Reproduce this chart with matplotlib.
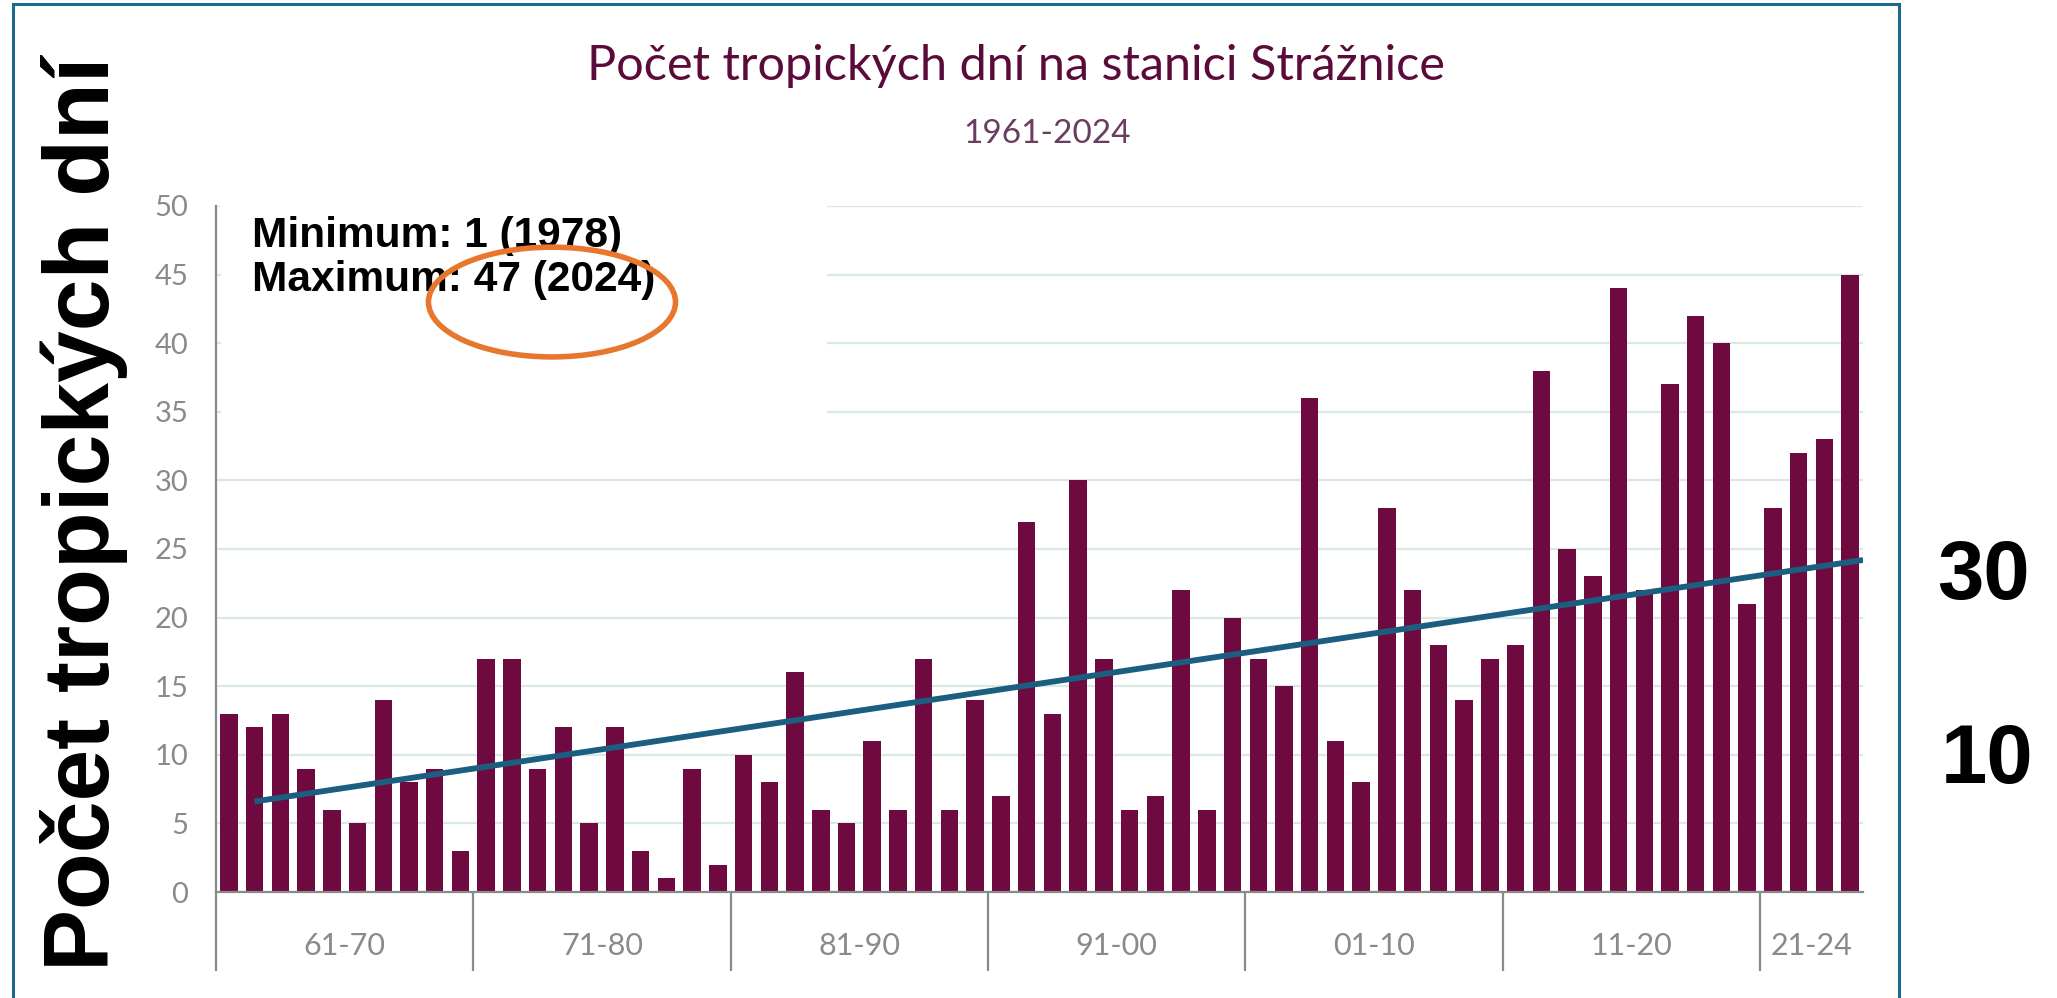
import matplotlib.pyplot as plt
from matplotlib.patches import Ellipse, Rectangle
import numpy as np

# pocet tropickych dni, Straznice 1961-2024
years = list(range(1961, 2025))
days = [13, 12, 13, 9, 6, 5, 14, 8, 9, 3,
        17, 17, 9, 12, 5, 12, 3, 1, 9, 2,
        10, 8, 16, 6, 5, 11, 6, 17, 6, 14,
        7, 27, 13, 30, 17, 6, 7, 22, 6, 20,
        17, 15, 36, 11, 8, 28, 22, 18, 14, 17,
        18, 38, 25, 23, 44, 22, 37, 42, 40, 21,
        28, 32, 33, 45]

decades = ['61-70', '71-80', '81-90', '91-00', '01-10', '11-20', '21-24']
decade_edges = [1960.5, 1970.5, 1980.5, 1990.5, 2000.5, 2010.5, 2020.5, 2024.5]

# trend line as drawn in the original
trend_years = [1962, 2024.5]
trend_days = [6.6, 24.2]

bar_color = '#6e0a40'
grey = '#8a8a8a'

fig = plt.figure(figsize=(20.57, 9.98), dpi=100)
ax = fig.add_axes([0.105, 0.1062, 0.8007, 0.6874])

ax.bar(years, days, width=0.68, color=bar_color, zorder=2)
ax.plot(trend_years, trend_days, color='#1b5e80', lw=4.2, zorder=3,
        solid_capstyle='butt')

ax.set_xlim(1960.5, 2024.5)
ax.set_ylim(0, 50)
ax.set_yticks(range(0, 51, 5))
ax.yaxis.grid(True, color='#d8e9e6', lw=1.6)
ax.set_axisbelow(True)
ax.tick_params(axis='y', length=0, pad=20, labelsize=21, labelcolor=grey)
for lab in ax.get_yticklabels():
    lab.set_fontfamily('Lato')

# decade separators and labels
ax.set_xticks(decade_edges[:-1])
ax.set_xticklabels([])
centers = [(a + b) / 2 for a, b in zip(decade_edges[:-1], decade_edges[1:])]
ax.set_xticks(centers, minor=True)
ax.set_xticklabels(decades, minor=True, fontsize=22, color=grey,
                   fontfamily='Lato')
ax.tick_params(axis='x', which='major', length=57, width=1.6, color=grey)
ax.tick_params(axis='x', which='minor', length=0, pad=29)

for s in ['top', 'right']:
    ax.spines[s].set_visible(False)
for s in ['left', 'bottom']:
    ax.spines[s].set_color(grey)
    ax.spines[s].set_linewidth(1.6)

# white box behind the min/max text
ax.add_patch(Rectangle((0.003, 0.65), 0.368, 0.36, transform=ax.transAxes,
                       facecolor='white', edgecolor='none', zorder=1.5,
                       clip_on=False))
ax.text(0.022, 0.924, 'Minimum: 1 (1978)\nMaximum: 47 (2024)',
        transform=ax.transAxes, fontsize=30.5, fontweight='bold',
        fontfamily='Liberation Sans', va='center', ha='left',
        linespacing=1.12, zorder=4)
ax.add_patch(Ellipse((0.204, 0.86), 0.15, 0.16, transform=ax.transAxes,
                     fill=False, edgecolor='#e8772e', lw=4, zorder=5,
                     clip_on=False))

fig.text(0.494, 0.934, 'Počet tropických dní na stanici Strážnice',
         ha='center', va='center', fontsize=35, color='#5a0b3a',
         fontfamily='Lato')
fig.text(0.509, 0.866, '1961-2024', ha='center', va='center', fontsize=24,
         color='#6b3d5e', fontfamily='Lato')

fig.text(0.041, 0.485, 'Počet tropických dní', rotation=90, ha='center',
         va='center', fontsize=67, fontweight='bold',
         fontfamily='Liberation Sans')
fig.text(0.964, 0.422, '30', ha='center', va='center', fontsize=60,
         fontweight='bold', fontfamily='Liberation Sans')
fig.text(0.966, 0.237, '10', ha='center', va='center', fontsize=60,
         fontweight='bold', fontfamily='Liberation Sans')

# outer frame
fig.add_artist(Rectangle((13 / 2057, -0.05), (1899 - 13) / 2057, 1.05 - 4 / 998,
                         transform=fig.transFigure, fill=False,
                         edgecolor='#1b6a8c', lw=2.2))

fig.savefig('out.png', dpi=100)
